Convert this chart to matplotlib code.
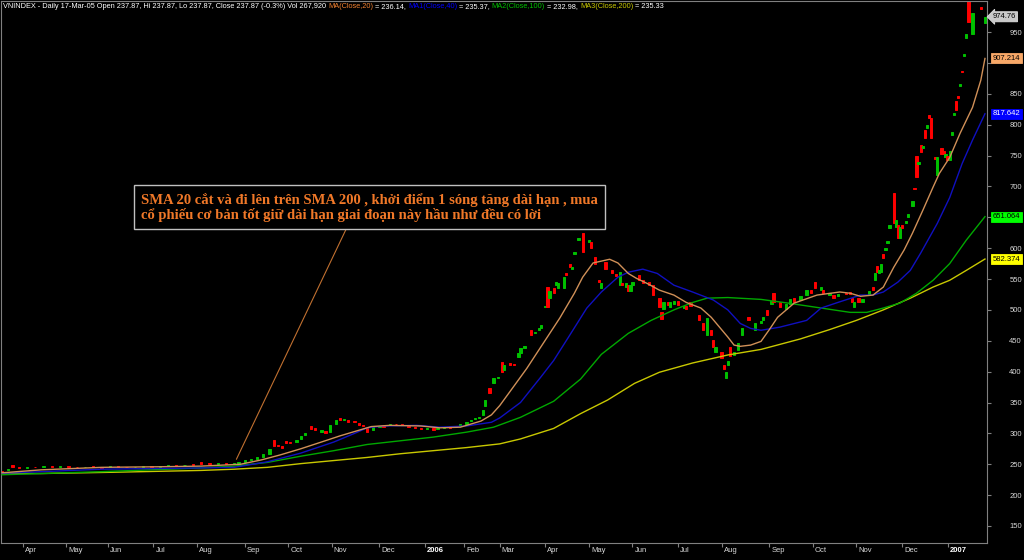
import matplotlib
matplotlib.use("Agg")
import matplotlib.pyplot as plt
import matplotlib.transforms as mtransforms

# daily candles (trading-day index, open, close)
candle_day = [0, 3, 5, 8, 12, 16, 20, 24, 28, 32,
              36, 40, 44, 48, 52, 56, 60, 64, 68, 72,
              76, 80, 84, 88, 92, 96, 100, 104, 108, 112,
              114, 117, 120, 123, 126, 129, 131, 133, 135, 137,
              139, 142, 144, 146, 149, 151, 154, 156, 158, 161,
              163, 165, 167, 170, 172, 174, 176, 179, 182, 184,
              187, 190, 193, 196, 199, 202, 205, 208, 210, 213,
              216, 219, 221, 224, 226, 228, 230, 232, 233, 235,
              237, 239, 241, 242, 245, 247, 249, 250, 252, 255,
              257, 259, 260, 262, 263, 264, 266, 267, 268, 271,
              272, 274, 275, 276, 278, 279, 280, 283, 284, 286,
              288, 289, 291, 294, 296, 298, 299, 301, 302, 303,
              304, 307, 309, 312, 314, 317, 318, 319, 321, 322,
              324, 326, 329, 330, 332, 336, 338, 340, 342, 343,
              344, 347, 348, 349, 350, 351, 353, 355, 357, 360,
              363, 366, 367, 369, 371, 372, 375, 378, 380, 382,
              385, 388, 390, 392, 395, 396, 399, 401, 403, 407,
              409, 410, 411, 413, 415, 418, 420, 421, 422, 423,
              424, 425, 426, 427, 428, 430, 431, 432, 433, 434,
              436, 437, 439, 440, 441, 442, 443, 444, 445, 446,
              447, 448, 450, 451, 453, 454, 455, 456, 457, 458,
              459, 460, 461, 462, 463, 464, 465, 466, 468, 472,
              474]
candle_open = [238.5, 240, 249, 246, 244, 246, 245, 247, 246, 247.5,
               246, 245, 246.5, 245, 245, 247, 246, 245, 246, 247,
               246, 247, 248, 248, 250, 253, 252, 250.5, 252.5, 250,
               250.5, 253, 257, 259, 262, 266, 289, 281, 280, 288,
               286, 286, 291, 297, 312, 308, 303, 304, 303, 316,
               325, 321, 322, 320, 317, 314, 309, 306, 311, 312,
               313, 316, 316, 312, 310, 309, 307, 308, 307, 309,
               312, 310, 312, 316, 320, 323, 325, 330, 345, 373,
               381, 389, 415, 402, 414, 413, 423, 430, 438, 467,
               462, 467, 470, 504, 537, 520, 535, 540, 535, 535,
               559, 575, 566, 590, 613, 638, 624, 610, 610, 585,
               548, 535, 577, 565, 558, 540, 543, 537, 540, 530,
               540, 556, 548, 545, 540, 519, 496, 502, 512, 505,
               510, 514, 503, 506, 512, 491, 478, 459, 467, 451,
               432, 432, 410, 390, 410, 440, 427, 435, 459, 488,
               467, 478, 483, 500, 510, 527, 512, 502, 510, 519,
               516, 524, 532, 545, 532, 532, 524, 524, 522, 528,
               529, 519, 504, 520, 512, 524, 537, 548, 571, 559,
               561, 590, 597, 608, 632, 689, 634, 637, 616, 637,
               640, 650, 669, 698, 749, 737, 767, 762, 791, 795,
               815, 810, 747, 718, 763, 758, 747, 750, 742, 783,
               816, 839, 846, 863, 887, 912, 941, 1005, 947, 991,
               964]
candle_close = [237.87, 243, 246, 244, 245.5, 245, 246.5, 246, 247, 246,
                245, 246, 245, 244.5, 246.5, 246, 245, 246, 247, 246,
                247, 248, 247, 249.5, 248.5, 251, 250.5, 252, 250, 251.5,
                253.5, 257, 259, 262, 266, 274, 279, 279, 277, 285,
                284, 290, 296, 301, 307, 305, 306, 300, 313, 321,
                321, 323, 319, 318, 314, 312, 302, 311, 312.5, 310.5,
                316, 315, 313, 310, 308, 307, 309, 306, 309, 311,
                308, 312, 315, 318, 322, 325, 326.5, 338, 354, 366,
                389, 392, 399, 411, 410, 411, 430, 438, 442, 459,
                465, 471, 475, 507, 504, 530, 528, 545, 543, 553,
                556, 569, 569, 593, 616, 632, 593, 613, 601, 575,
                545, 543, 567, 560, 555, 561, 540, 543, 530, 540,
                545, 548, 543, 540, 524, 504, 486, 512, 508, 512,
                514, 508, 507, 502, 506, 483, 467, 487, 459, 440,
                440, 422, 405, 399, 418, 426, 432, 446, 470, 483,
                478, 482, 488, 491, 515, 512, 505, 510, 517, 512,
                523, 532, 528, 535, 537, 527, 527, 519, 526, 525,
                526, 512, 512, 513, 518, 530, 532, 559, 562, 565,
                575, 584, 600, 612, 637, 640, 645, 616, 634, 633,
                644, 656, 677, 696, 716, 740, 755, 765, 778, 799,
                810, 778, 744, 747, 753, 752, 753, 742, 758, 788,
                819, 823, 843, 866, 885, 915, 947, 966, 981, 988,
                974.76]

# moving averages
ma20_day = [0, 19, 48, 77, 96, 115, 125, 134, 144, 154, 163, 171, 178, 187, 202,
            211, 221, 231, 236, 240, 245, 253, 261, 269, 276, 280, 285, 289, 293, 297,
            302, 306, 311, 317, 324, 330, 337, 342, 346, 350, 353, 356, 361, 366, 370,
            374, 382, 393, 404, 409, 414, 420, 425, 430, 435, 439, 444, 449, 452, 457,
            462, 468, 472, 474]
ma20 = [236.14, 241, 245, 246, 247, 250, 257, 265, 275, 286, 296, 304, 311, 313, 312,
        309, 310, 320, 330, 345, 368, 405, 446, 487, 527, 553, 576, 579, 582, 576,
        559, 551, 543, 532, 524, 512, 503, 488, 472, 456, 443, 441, 443, 449, 468,
        488, 511, 524, 529, 527, 522, 524, 537, 569, 597, 624, 661, 699, 721, 747,
        786, 828, 872, 907.214]

ma40_day = [0, 48, 96, 112, 128, 144, 160, 170, 176, 184, 200, 211, 224, 236, 240,
            250, 260, 266, 273, 282, 289, 297, 302, 309, 316, 324, 333, 343, 350, 356,
            361, 366, 375, 388, 395, 403, 414, 420, 425, 432, 438, 443, 451, 457, 463,
            468, 474]
ma40 = [235.37, 242, 244, 245, 254, 268, 286, 300, 309, 312, 313, 310, 312, 318, 325,
        350, 392, 418, 455, 503, 529, 553, 561, 566, 559, 540, 529, 516, 500, 478,
        470, 467, 472, 483, 503, 512, 524, 524, 529, 545, 564, 592, 640, 682, 737,
        775, 817.642]

ma100_day = [0, 19, 48, 96, 112, 128, 144, 160, 176, 192, 208, 224, 237, 250, 266,
             279, 289, 302, 313, 324, 333, 340, 350, 366, 377, 393, 409, 417, 425, 433,
             441, 449, 457, 465, 474]
ma100 = [232.98, 235, 238, 244, 247, 253, 263, 272, 282, 288, 294, 302, 310, 326, 352,
         388, 428, 462, 483, 500, 512, 519, 520, 517, 512, 504, 496, 496, 503, 511,
         527, 548, 575, 613, 651.064]

ma200_day = [0, 19, 53, 96, 112, 128, 144, 160, 176, 192, 208, 224, 240, 250, 266,
             279, 292, 305, 317, 333, 350, 366, 385, 399, 412, 425, 438, 449, 457, 465,
             474]
ma200 = [235.33, 235, 237, 240, 242, 245, 251, 256, 261, 267, 272, 277, 283, 291, 308,
         332, 354, 381, 399, 414, 427, 436, 453, 468, 483, 500, 519, 537, 548, 564,
         582.374]

month_ticks = [10, 31, 51, 73, 94, 117, 138, 159, 182, 204, 223,
               240, 262, 283, 304, 326, 347, 370, 391, 412, 434, 456]
month_labels = ["Apr", "May", "Jun", "Jul", "Aug", "Sep", "Oct", "Nov", "Dec", "2006", "Feb",
                "Mar", "Apr", "May", "Jun", "Jul", "Aug", "Sep", "Oct", "Nov", "Dec", "2007"]
price_ticks = [150, 200, 250, 300, 350, 400, 450, 500, 550, 600,
               650, 700, 750, 800, 850, 900, 950]

note = ("SMA 20 cắt và đi lên trên SMA 200 , khởi điểm 1 sóng tăng dài hạn , mua\n"
        "cổ phiếu cơ bản tốt giữ dài hạn giai đoạn này hầu như đều có lời")

plt.rcParams["font.family"] = ["Liberation Sans", "DejaVu Sans"]

fig = plt.figure(figsize=(10.24, 5.6), dpi=100, facecolor="black")
ax = fig.add_axes([0.001, 0.0304, 0.9629, 0.9686])
ax.set_facecolor("black")

# candles
colors = ["#00C000" if c >= o else "#FF0000" for o, c in zip(candle_open, candle_close)]
heights = [c - o for o, c in zip(candle_open, candle_close)]
ax.bar(candle_day, heights, bottom=candle_open, width=1.1, color=colors,
       edgecolor=colors, linewidth=0.7, zorder=2)

# moving averages
ax.plot(ma200_day, ma200, color="#C8C800", lw=1.0, zorder=3)
ax.plot(ma100_day, ma100, color="#00A800", lw=1.0, zorder=3)
ax.plot(ma40_day, ma40, color="#1010C0", lw=1.0, zorder=3)
ax.plot(ma20_day, ma20, color="#D09058", lw=1.0, zorder=3)

ax.set_xlim(-0.5, 475)
ax.set_ylim(122.5, 1001)

for s in ax.spines.values():
    s.set_color("#808080")
    s.set_linewidth(0.8)

# last-value tags on the price axis
tags = [(candle_close[-1], "{:.2f}", "#C8C8C8", "black", "larrow,pad=0.2"),
        (ma20[-1], "{:.3f}", "#F8A868", "black", "square,pad=0.2"),
        (ma40[-1], "{:.3f}", "#0000FF", "white", "square,pad=0.2"),
        (ma100[-1], "{:.3f}", "#00FF00", "black", "square,pad=0.2"),
        (ma200[-1], "{:.3f}", "#FFFF00", "black", "square,pad=0.2")]

# axes ticks (labels hidden under a tag are not drawn, as on the reference)
ax.yaxis.tick_right()
ax.set_yticks(price_ticks)
ax.set_yticklabels(["" if any(abs(p - tv[0]) < 10 for tv in tags) else str(p)
                    for p in price_ticks])
ax.tick_params(axis="y", direction="out", length=3, pad=13, colors="#808080",
               labelcolor="#D8D8D8", labelsize=5.5)
ax.set_xticks(month_ticks)
ax.set_xticklabels(month_labels, ha="left")
ax.tick_params(axis="x", direction="out", length=3, pad=0, colors="#808080",
               labelcolor="#D8D8D8", labelsize=5.5)
shift = mtransforms.ScaledTranslation(2 / 100, 0, fig.dpi_scale_trans)
for lab in ax.get_xticklabels():
    lab.set_transform(lab.get_transform() + shift)
    if lab.get_text().isdigit():
        lab.set_fontweight("bold")
        lab.set_color("white")

for v, fmt, fc, tc, style in tags:
    ax.annotate(fmt.format(v), xy=(1, v), xycoords=("axes fraction", "data"),
                xytext=(4, 0), textcoords="offset points", ha="left", va="center",
                fontsize=5.5, color=tc, annotation_clip=False, zorder=6,
                bbox=dict(boxstyle=style, fc=fc, ec="#E0E0E0" if fc == "#C8C8C8" else fc, lw=0.6))

# header line
parts = [("VNINDEX - Daily 17-Mar-05 Open 237.87, Hi 237.87, Lo 237.87, Close 237.87 (-0.3%) Vol 267,920 ", "white"),
         ("MA(Close,20)", "#F08030"), (" = 236.14, ", "white"),
         ("MA1(Close,40)", "#0000FF"), (" = 235.37, ", "white"),
         ("MA2(Close,100)", "#00C000"), (" = 232.98, ", "white"),
         ("MA3(Close,200)", "#C8C800"), (" = 235.33", "white")]
t = ax.text(0.002, 0.996, parts[0][0], color=parts[0][1], transform=ax.transAxes,
            ha="left", va="top", fontsize=5.35)
for s, c in parts[1:]:
    t = ax.annotate(s, xy=(1, 0), xycoords=t, ha="left", va="bottom", color=c, fontsize=5.35)

# comment box with pointer
ax.annotate(note, xy=(113, 258), xycoords="data", xytext=(0.1418, 0.619),
            textcoords="axes fraction", ha="left", va="center", color="#F07828",
            fontsize=10.5, fontweight="bold", family=["Liberation Serif", "DejaVu Serif"],
            linespacing=1.1, zorder=5,
            bbox=dict(boxstyle="square,pad=0.5", fc="black", ec="#C0C0C0", lw=1),
            arrowprops=dict(arrowstyle="-", color="#C07030", lw=0.8, shrinkA=0, shrinkB=0,
                            relpos=(0.457, 0)))

fig.savefig("out.png", dpi=100, facecolor="black")
